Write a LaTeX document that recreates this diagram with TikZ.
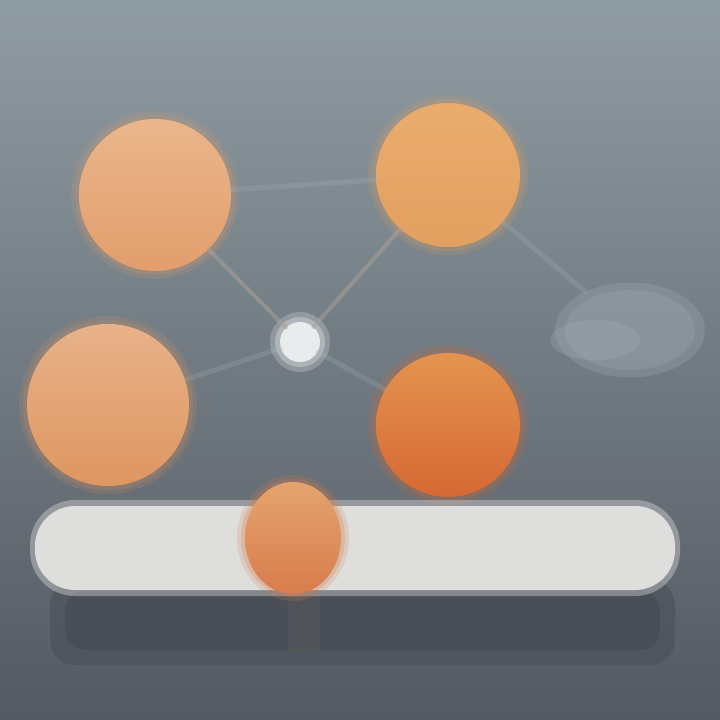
\documentclass[tikz,border=0pt]{standalone}
\usetikzlibrary{shapes.geometric}
\definecolor{bgtop}{RGB}{143,156,162}
\definecolor{bgmid}{RGB}{118,129,133}
\definecolor{bgbot}{RGB}{84,89,98}
\definecolor{aTop}{RGB}{234,182,140}
\definecolor{aBot}{RGB}{226,158,108}
\definecolor{bTop}{RGB}{234,172,108}
\definecolor{bBot}{RGB}{226,160,96}
\definecolor{cTop}{RGB}{232,178,138}
\definecolor{cBot}{RGB}{222,150,96}
\definecolor{dTop}{RGB}{228,148,80}
\definecolor{dBot}{RGB}{214,104,52}
\definecolor{eTop}{RGB}{228,164,110}
\definecolor{eBot}{RGB}{216,124,76}
\definecolor{dotc}{RGB}{232,236,237}
\definecolor{barc}{RGB}{222,223,221}
\definecolor{shadowc}{RGB}{68,73,82}
\definecolor{linkc}{RGB}{170,160,150}
\definecolor{faintc}{RGB}{170,184,190}
\definecolor{cloudc}{RGB}{176,188,194}
\tikzset{
  ball/.style={circle, inner sep=0pt, draw=none},
  halo/.style={fill=#1, opacity=0.16},
  link/.style={draw=linkc, line width=4pt, opacity=0.55, line cap=round},
  faint/.style={draw=faintc, line width=5pt, opacity=0.22, line cap=round}
}
\begin{document}
\begin{tikzpicture}[x=1pt,y=-1pt]
\useasboundingbox (0,0) rectangle (720,720);
\shade[top color=bgtop, middle color=bgmid, bottom color=bgbot] (0,0) rectangle (720,720);

% faint cloud at right
\node[ellipse, inner sep=0pt, minimum width=150pt, minimum height=95pt, fill=cloudc, opacity=0.22] (cl) at (630,330) {};
\fill[cloudc, opacity=0.18] (630,330) ellipse (65pt and 40pt);
\fill[cloudc, opacity=0.2] (595,340) ellipse (45pt and 20pt);

% shadow under bar
\fill[shadowc, opacity=0.45, rounded corners=25pt] (50,580) rectangle (675,665);
\fill[shadowc, opacity=0.6, rounded corners=20pt] (65,590) rectangle (660,650);
\fill[gray!70!black, opacity=0.5] (288,595) rectangle (320,650);

% halos
\foreach \p/\r/\c in {{155,195}/76/aBot, {448,175}/72/bBot, {108,405}/81/cBot, {448,425}/72/dBot}{
  \fill[halo=\c] (\p) circle (\r pt + 8pt);
  \fill[halo=\c] (\p) circle (\r pt + 4pt);
}

% nodes
\node[ball, minimum size=152pt, top color=aTop, bottom color=aBot] (a) at (155,195) {};
\node[ball, minimum size=144pt, top color=bTop, bottom color=bBot] (b) at (448,175) {};
\node[ball, minimum size=162pt, top color=cTop, bottom color=cBot] (c) at (108,405) {};
\node[ball, minimum size=144pt, top color=dTop, bottom color=dBot] (d) at (448,425) {};
\fill[dotc, opacity=0.25] (300,342) circle (30pt);
\fill[dotc, opacity=0.35] (300,342) circle (25pt);
\node[ball, minimum size=40pt, fill=dotc] (h) at (300,342) {};

% connectors
\draw[link] (a) -- (h);
\draw[link] (b) -- (h);
\draw[faint] (a) -- (b);
\draw[faint] (b) -- (cl);
\draw[faint] (h) -- (d);
\draw[faint] (h) -- (c);

% bar
\fill[barc, opacity=0.4, rounded corners=45pt] (30,500) rectangle (680,596);
\node[rectangle, rounded corners=40pt, minimum width=640pt, minimum height=84pt, fill=barc, inner sep=0pt] (bar) at (355,548) {};
\fill[eBot, opacity=0.2] (293,538) ellipse (56pt and 63pt);
\fill[eBot, opacity=0.25] (293,538) ellipse (52pt and 59pt);
\node[ellipse, inner sep=0pt, minimum width=96pt, minimum height=112pt, top color=eTop, bottom color=eBot] (e) at (293,538) {};
\end{tikzpicture}
\end{document}
